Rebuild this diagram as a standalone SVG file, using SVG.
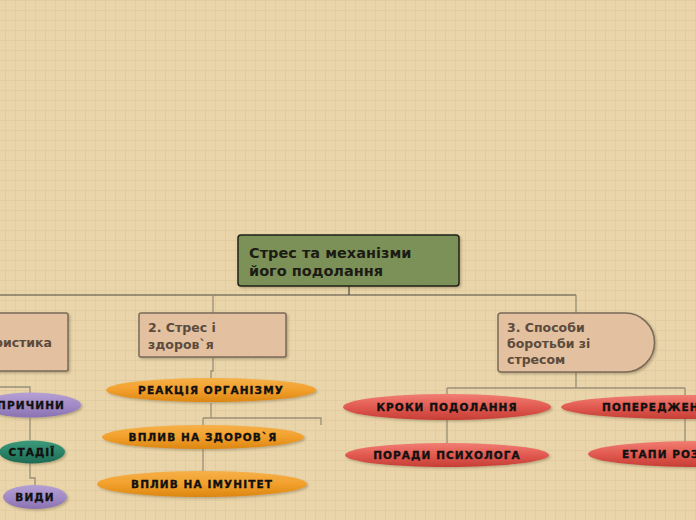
<svg xmlns="http://www.w3.org/2000/svg" width="696" height="520" viewBox="0 0 696 520">
<defs>
<pattern id="grid" width="10" height="10" patternUnits="userSpaceOnUse" x="5" y="0">
<rect width="10" height="10" fill="#e9d5a9"/>
<path d="M0,0.5H10M0.5,0V10" stroke="#e3cda0" stroke-width="1"/>
</pattern>
<linearGradient id="gOr" x1="0" y1="0" x2="0" y2="1">
<stop offset="0" stop-color="#f6b048"/><stop offset="0.5" stop-color="#f2a02c"/><stop offset="1" stop-color="#dc8612"/>
</linearGradient>
<linearGradient id="gRd" x1="0" y1="0" x2="0" y2="1">
<stop offset="0" stop-color="#f27d72"/><stop offset="0.5" stop-color="#e15a50"/><stop offset="1" stop-color="#c63e36"/>
</linearGradient>
<linearGradient id="gPu" x1="0" y1="0" x2="0" y2="1">
<stop offset="0" stop-color="#b5a0d4"/><stop offset="0.5" stop-color="#a28bc6"/><stop offset="1" stop-color="#8a72b2"/>
</linearGradient>
<linearGradient id="gTe" x1="0" y1="0" x2="0" y2="1">
<stop offset="0" stop-color="#3c9a7c"/><stop offset="0.5" stop-color="#2c8468"/><stop offset="1" stop-color="#1d6a52"/>
</linearGradient>
<filter id="sh" x="-10%" y="-20%" width="120%" height="150%">
<feDropShadow dx="1.5" dy="1.5" stdDeviation="1" flood-color="#5a4a30" flood-opacity="0.35"/>
</filter>
</defs>
<style>
.main{font-family:"DejaVu Sans","Liberation Sans",sans-serif;font-weight:bold;font-size:14.5px;fill:#1c1c14}
.sub{font-family:"DejaVu Sans","Liberation Sans",sans-serif;font-weight:bold;font-size:12.5px;fill:#5c4b3c}
.box{fill:#e2c0a0;stroke:#7a6a58;stroke-width:1.5}
.lab{font-family:"DejaVu Sans","Liberation Sans",sans-serif;font-weight:900;font-size:10.5px;fill:#111;stroke:#111;stroke-width:0.35;text-anchor:middle;letter-spacing:1.1px}
.c1{fill:none;stroke:#4e4a42;stroke-width:1.2}
.c2{fill:none;stroke:#9a8e7a;stroke-width:1.3}
</style>
<rect width="696" height="520" fill="url(#grid)"/>

<g id="connectors">
<path class="c1" d="M0,295H576M349,286V295"/>
<path class="c2" d="M213,295V313M576,295V313"/>
<path class="c2" d="M213,357V371H211V378M211,403V418M203,418H321V425M203,418V425M203,449V471"/>
<path class="c2" d="M576,372V388M447,388H685M447,388V394M685,388V395M447,420V443M685,419V442"/>
<path class="c2" d="M0,387H30V393M30,418V440M30,463V478H35V485"/>
</g>

<g id="root">
<rect x="238" y="235" width="221" height="51" rx="3" fill="#7b9158" stroke="#202018" stroke-width="1.5" filter="url(#sh)"/>
<text class="main" x="249" y="258">Стрес та механізми</text>
<text class="main" x="249" y="276">його подолання</text>
</g>

<g id="n1">
<rect class="box" x="-20" y="313" width="88" height="58" rx="2" filter="url(#sh)"/>
<text class="sub" x="52" y="347" text-anchor="end">Характеристика</text>
</g>

<g id="n2">
<rect class="box" x="139" y="313" width="147" height="44" rx="2" filter="url(#sh)"/>
<text class="sub" x="148" y="332">2. Стрес і</text>
<text class="sub" x="148" y="349">здоров`я</text>
</g>

<g id="n3">
<path class="box" d="M501,313H625A29.5,29.5 0 0 1 625,372H501Q498,372 498,369V316Q498,313 501,313Z" filter="url(#sh)"/>
<text class="sub" x="507" y="332">3. Способи</text>
<text class="sub" x="507" y="348">боротьби зі</text>
<text class="sub" x="507" y="364">стресом</text>
</g>

<g id="prychyny">
<ellipse cx="31" cy="405" rx="50" ry="12.5" fill="url(#gPu)" filter="url(#sh)"/>
<text class="lab" x="31" y="409">ПРИЧИНИ</text>
</g>
<g id="stadii">
<ellipse cx="32" cy="452" rx="33" ry="11.5" fill="url(#gTe)" filter="url(#sh)"/>
<text class="lab" x="32" y="456">СТАДІЇ</text>
</g>
<g id="vydy">
<ellipse cx="35" cy="497" rx="32" ry="12" fill="url(#gPu)" filter="url(#sh)"/>
<text class="lab" x="35" y="501">ВИДИ</text>
</g>

<g id="reakciya">
<ellipse cx="211" cy="390" rx="105" ry="12" fill="url(#gOr)" filter="url(#sh)"/>
<text class="lab" x="211" y="394">РЕАКЦІЯ ОРГАНІЗМУ</text>
</g>
<g id="vplyv-zdorov">
<ellipse cx="203" cy="437" rx="101" ry="12" fill="url(#gOr)" filter="url(#sh)"/>
<text class="lab" x="203" y="441">ВПЛИВ НА ЗДОРОВ`Я</text>
</g>
<g id="vplyv-imunitet">
<ellipse cx="202" cy="484" rx="105" ry="13" fill="url(#gOr)" filter="url(#sh)"/>
<text class="lab" x="202" y="488">ВПЛИВ НА ІМУНІТЕТ</text>
</g>

<g id="kroky">
<ellipse cx="447" cy="407" rx="104" ry="13" fill="url(#gRd)" filter="url(#sh)"/>
<text class="lab" x="447" y="411">КРОКИ ПОДОЛАННЯ</text>
</g>
<g id="porady">
<ellipse cx="447" cy="455" rx="102" ry="12" fill="url(#gRd)" filter="url(#sh)"/>
<text class="lab" x="447" y="459">ПОРАДИ ПСИХОЛОГА</text>
</g>
<g id="poperedzhennya">
<ellipse cx="685" cy="407" rx="124" ry="12" fill="url(#gRd)" filter="url(#sh)"/>
<text class="lab" x="602" y="411" style="text-anchor:start">ПОПЕРЕДЖЕННЯ</text>
</g>
<g id="etapy">
<ellipse cx="700" cy="454" rx="112" ry="13" fill="url(#gRd)" filter="url(#sh)"/>
<text class="lab" x="622" y="458" style="text-anchor:start">ЕТАПИ РОЗВИТКУ</text>
</g>
</svg>
